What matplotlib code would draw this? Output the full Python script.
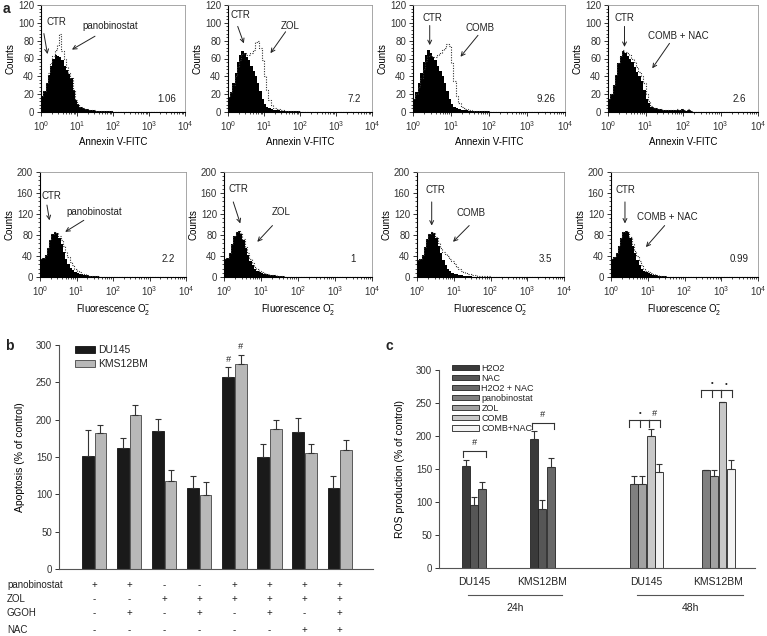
import numpy as np
import matplotlib
matplotlib.use("Agg")
import matplotlib.pyplot as plt
from matplotlib.patches import Patch
from matplotlib.ticker import MultipleLocator, LogLocator, NullFormatter
from matplotlib.transforms import blended_transform_factory

plt.rcParams['font.family'] = ['Liberation Sans', 'DejaVu Sans']
plt.rcParams['mathtext.fontset'] = 'custom'
plt.rcParams['mathtext.rm'] = 'Liberation Sans'
plt.rcParams['mathtext.it'] = 'Liberation Sans:italic'
plt.rcParams['font.size'] = 7
plt.rcParams['text.color'] = '#222222'

# ---- panel a: counts per 1/16 decade bin, starting at 10^0 ----
# Annexin V-FITC (top row)
ann_ctr_pano = [18, 24, 32, 42, 52, 60, 64, 63, 62, 58, 52, 47, 43, 38, 25, 14,
                9, 6, 4, 3, 3, 2, 2, 2, 1, 1, 1, 1, 1, 1, 1, 1]
ann_pano = [18, 24, 33, 44, 55, 63, 70, 75, 87, 68, 60, 50, 44, 38, 25, 14,
            9, 6, 4, 3, 3, 2, 2, 2, 1, 1, 1, 1, 1, 1, 1, 1]
ann_ctr_zol = [17, 22, 32, 44, 56, 64, 68, 66, 62, 58, 52, 46, 40, 32, 24, 15,
               9, 6, 4, 3, 2, 2, 2, 1, 1, 1, 1, 1, 1, 1, 1, 1]
ann_zol = [17, 22, 30, 40, 50, 58, 65, 66, 64, 64, 66, 70, 78, 80, 72, 58,
           40, 25, 14, 8, 5, 4, 3, 2, 2, 1, 1, 1, 1, 1, 1, 1]
ann_ctr_comb = [15, 22, 32, 44, 56, 64, 69, 66, 62, 58, 52, 46, 40, 32, 24, 15,
                9, 6, 4, 3, 2, 2, 2, 1, 1, 1, 1, 1, 1, 1, 1, 1]
ann_comb = [15, 20, 28, 38, 48, 57, 63, 64, 62, 62, 64, 66, 70, 72, 76, 74,
            55, 35, 18, 10, 6, 4, 3, 2, 2, 1, 1, 1, 1, 1, 1, 1]
ann_ctr_nac = [15, 20, 30, 42, 55, 63, 68, 66, 63, 60, 56, 50, 45, 40, 35, 25,
               15, 10, 6, 5, 4, 3, 3, 2, 2, 2, 2, 2, 2, 2, 2, 3, 2, 1, 2, 1]
ann_nac = [15, 20, 30, 42, 55, 63, 69, 67, 66, 64, 60, 56, 50, 45, 40, 32,
           20, 12, 7, 5, 4, 3, 3, 2, 2, 2, 2, 2, 2, 3, 2, 3, 2, 2, 3, 1]
# Fluorescence O2- (bottom row)
sox_ctr_pano = [35, 37, 42, 55, 70, 82, 85, 84, 75, 62, 48, 35, 25, 18, 13, 10,
                8, 6, 5, 4, 3, 2, 2, 1, 1, 1]
sox_pano = [35, 37, 42, 55, 70, 82, 85, 84, 78, 70, 60, 48, 38, 28, 22, 16,
            12, 9, 6, 5, 3, 2, 2, 1, 1, 1]
sox_ctr_zol = [35, 37, 45, 62, 78, 86, 88, 82, 70, 55, 42, 30, 22, 16, 12, 10,
               8, 6, 5, 4, 3, 3, 2, 2, 2, 1]
sox_zol = [35, 37, 45, 62, 78, 86, 88, 83, 72, 58, 45, 34, 26, 20, 15, 12,
           10, 8, 6, 5, 4, 3, 3, 2, 2, 1]
sox_ctr_comb = [32, 35, 42, 58, 72, 82, 86, 84, 75, 60, 45, 32, 22, 15, 11, 8,
                6, 5, 4, 3, 2, 2, 1, 1]
sox_comb = [32, 35, 42, 58, 72, 82, 86, 84, 76, 65, 55, 48, 44, 40, 35, 30,
            25, 20, 15, 12, 10, 8, 6, 5, 4, 3, 2, 2, 1, 1, 1, 1]
sox_ctr_nac = [35, 38, 45, 60, 75, 85, 88, 85, 75, 60, 45, 32, 22, 16, 12, 9,
               7, 5, 4, 3, 2, 2, 1, 1]
sox_nac = [35, 38, 45, 60, 75, 85, 88, 85, 76, 63, 50, 40, 30, 22, 16, 12,
           9, 7, 5, 4, 3, 2, 2, 1]

hist_treatments = ['panobinostat', 'ZOL', 'COMB', 'COMB + NAC']
ann_numbers = ['1.06', '7.2', '9.26', '2.6']
sox_numbers = ['2.2', '1', '3.5', '0.99']

# ---- panel b ----
b_rows = ['panobinostat', 'ZOL', 'GGOH', 'NAC']
pano_row = ['+', '+', '-', '-', '+', '+', '+', '+']
zol_row = ['-', '-', '+', '+', '+', '+', '+', '+']
ggoh_row = ['-', '+', '-', '+', '-', '+', '-', '+']
nac_row = ['-', '-', '-', '-', '-', '-', '+', '+']
du145_apop = [152, 162, 185, 109, 257, 150, 183, 108]
du145_apop_err = [34, 13, 16, 16, 13, 18, 19, 17]
kms_apop = [182, 206, 118, 99, 274, 188, 155, 160]
kms_apop_err = [11, 13, 15, 17, 13, 12, 13, 13]

# ---- panel c ----
c_cells = ['DU145', 'KMS12BM']
c_times = ['24h', '48h']
h2o2_ros = [154, 196]
h2o2_err = [10, 11]
nac_ros = [96, 89]
nac_err = [12, 14]
h2o2nac_ros = [119, 153]
h2o2nac_err = [12, 14]
pano_ros = [128, 149]
pano_err = [11, 0]
zol_ros = [128, 139]
zol_err = [12, 9]
comb_ros = [200, 251]
comb_err = [11, 1]
combnac_ros = [145, 150]
combnac_err = [12, 13]

W, H = 767, 636
fig = plt.figure(figsize=(W / 100, H / 100), dpi=100)


def rect(x0, x1, y0, y1):
    return [x0 / W, 1 - y1 / H, (x1 - x0) / W, (y1 - y0) / H]


def hist_panel(r, ctr, trt, ymax, ystep, yminor, xlabel, name, number, num_y,
               ctr_txt, ctr_arr, trt_txt, trt_arr):
    ax = fig.add_axes(r)
    n = 64
    edges = 10 ** (np.arange(n + 1) / 16)
    c = np.pad(np.array(ctr, float), (0, n - len(ctr)))
    t = np.pad(np.array(trt, float), (0, n - len(trt)))
    ax.stairs(c, edges, fill=True, color='black')
    ax.stairs(t, edges, color='#333333', lw=0.8, ls=(0, (1, 1.3)))
    ax.set_xscale('log')
    ax.set_xlim(1, 1e4)
    ax.set_ylim(0, ymax)
    ax.yaxis.set_major_locator(MultipleLocator(ystep))
    ax.yaxis.set_minor_locator(MultipleLocator(yminor))
    ax.xaxis.set_major_locator(LogLocator(10, numticks=10))
    ax.xaxis.set_minor_locator(LogLocator(10, subs=np.arange(2, 10), numticks=10))
    ax.xaxis.set_minor_formatter(NullFormatter())
    ax.tick_params(which='major', direction='out', length=3, width=0.7,
                   labelsize=7, colors='#333333', pad=2)
    ax.tick_params(which='minor', direction='out', length=1.5, width=0.5)
    for s in ['left', 'bottom']:
        ax.spines[s].set_linewidth(0.8)
    for s in ['top', 'right']:
        ax.spines[s].set_color('#999999')
        ax.spines[s].set_linewidth(0.6)
    ax.set_xlabel(xlabel, fontsize=7, labelpad=3)
    ax.set_ylabel('Counts', fontsize=7, labelpad=2)
    ax.text(10 ** 3.5, num_y, number, ha='center', va='center', fontsize=7)
    ax.text(10 ** ctr_txt[0], ctr_txt[1], 'CTR', ha='center', va='center', fontsize=7)
    ax.text(10 ** trt_txt[0], trt_txt[1], name, ha='center', va='center', fontsize=7)
    for (x0, y0), (x1, y1) in [ctr_arr, trt_arr]:
        ax.annotate('', xy=(10 ** x1, y1), xytext=(10 ** x0, y0),
                    arrowprops=dict(arrowstyle='->', lw=0.7, color='#222222',
                                    shrinkA=0, shrinkB=0))
    return ax


top_rects = [rect(41, 185, 5, 112), rect(228, 372, 5, 112),
             rect(413, 565, 5, 112), rect(608, 758, 5, 112)]
bot_rects = [rect(40, 186, 172, 277), rect(224, 372, 172, 277),
             rect(417, 564, 172, 277), rect(611, 758, 172, 277)]

ann_pairs = [(ann_ctr_pano, ann_pano), (ann_ctr_zol, ann_zol),
             (ann_ctr_comb, ann_comb), (ann_ctr_nac, ann_nac)]
sox_pairs = [(sox_ctr_pano, sox_pano), (sox_ctr_zol, sox_zol),
             (sox_ctr_comb, sox_comb), (sox_ctr_nac, sox_nac)]

# label / arrow placement in (decade, count)
top_marks = [
    ((0.44, 101), ((0.08, 88), (0.18, 65)), (1.93, 97), ((1.5, 85), (0.86, 70))),
    ((0.34, 109), ((0.27, 96), (0.44, 77)), (1.73, 97), ((1.6, 90), (1.18, 66))),
    ((0.51, 105), ((0.44, 97), (0.44, 75)), (1.76, 94), ((1.71, 86), (1.25, 62))),
    ((0.44, 105), ((0.44, 96), (0.44, 73)), (1.87, 85), ((1.64, 77), (1.18, 49))),
]
bot_marks = [
    ((0.32, 154), ((0.19, 137), (0.26, 108)), (1.48, 124), ((1.2, 108), (0.69, 86))),
    ((0.39, 168), ((0.25, 143), (0.44, 102)), (1.55, 124), ((1.31, 98), (0.9, 67))),
    ((0.49, 165), ((0.4, 143), (0.4, 98)), (1.46, 121), ((1.42, 98), (0.98, 67))),
    ((0.4, 165), ((0.38, 143), (0.38, 102)), (1.54, 114), ((1.46, 98), (0.95, 57))),
]

for i in range(4):
    m = top_marks[i]
    hist_panel(top_rects[i], ann_pairs[i][0], ann_pairs[i][1], 120, 20, 4,
               'Annexin V-FITC', hist_treatments[i], ann_numbers[i], 15,
               m[0], m[1], m[2], m[3])
    m = bot_marks[i]
    hist_panel(bot_rects[i], sox_pairs[i][0], sox_pairs[i][1], 200, 40, 8,
               r'Fluorescence O$_2^{\mathdefault{-}}$', hist_treatments[i],
               sox_numbers[i], 35, m[0], m[1], m[2], m[3])

# ---- panel b ----
axb = fig.add_axes(rect(59, 373, 345, 569))
xb = np.arange(len(du145_apop))
bw = 0.33
axb.bar(xb - 0.18, du145_apop, bw, color='#1a1a1a', edgecolor='#111111', lw=0.6,
        yerr=[np.zeros(8), du145_apop_err], capsize=2.5,
        error_kw=dict(lw=0.8, capthick=0.8, ecolor='#333333'), label='DU145')
axb.bar(xb + 0.18, kms_apop, bw, color='#b8b8b8', edgecolor='#444444', lw=0.6,
        yerr=[np.zeros(8), kms_apop_err], capsize=2.5,
        error_kw=dict(lw=0.8, capthick=0.8, ecolor='#333333'), label='KMS12BM')
axb.set_xlim(-1.0, 7.95)
axb.set_ylim(0, 300)
axb.yaxis.set_major_locator(MultipleLocator(50))
axb.set_xticks([])
axb.spines['top'].set_visible(False)
axb.spines['right'].set_visible(False)
axb.spines['left'].set_color('#555555')
axb.spines['bottom'].set_color('#555555')
axb.tick_params(axis='y', direction='out', length=3, width=0.7, labelsize=7,
                colors='#333333', pad=2)
axb.set_ylabel('Apoptosis (% of control)', fontsize=7.5, labelpad=8)
axb.text(xb[4] - 0.18, du145_apop[4] + du145_apop_err[4] + 5, '#',
         ha='center', va='bottom', fontsize=6.5, style='italic')
axb.text(xb[4] + 0.18, kms_apop[4] + kms_apop_err[4] + 5, '#',
         ha='center', va='bottom', fontsize=6.5, style='italic')
axb.legend(loc='upper left', bbox_to_anchor=(70 / W, 1 - 340 / H),
           bbox_transform=fig.transFigure, frameon=False, fontsize=7.5,
           handlelength=1.9, handleheight=0.7, labelspacing=0.35,
           borderpad=0, handletextpad=0.3)

tb = blended_transform_factory(axb.transData, fig.transFigure)
for row_name, row, ypx in zip(b_rows, [pano_row, zol_row, ggoh_row, nac_row],
                              [585, 599, 613, 630]):
    fig.text(7 / W, 1 - ypx / H, row_name, ha='left', va='center', fontsize=7)
    for x, s in zip(xb, row):
        axb.text(x, 1 - ypx / H, s, transform=tb, ha='center', va='center',
                 fontsize=7, clip_on=False)

# ---- panel c ----
axc = fig.add_axes(rect(439, 755, 370, 568))
c_centers = [4.2, 12.4, 24.9, 33.5]
series24 = [('H2O2', h2o2_ros, h2o2_err, '#3a3a3a'),
            ('NAC', nac_ros, nac_err, '#565656'),
            ('H2O2 + NAC', h2o2nac_ros, h2o2nac_err, '#686868')]
series48 = [('panobinostat', pano_ros, pano_err, '#808080'),
            ('ZOL', zol_ros, zol_err, '#a2a2a2'),
            ('COMB', comb_ros, comb_err, '#c8c8c8'),
            ('COMB+NAC', combnac_ros, combnac_err, '#f2f2f2')]
ekw = dict(lw=0.8, capthick=0.8, ecolor='#333333')
xpos = {}
for k, (lab, vals, errs, col) in enumerate(series24):
    xs = np.array(c_centers[:2]) + (k - 1)
    xpos[lab] = xs
    axc.bar(xs, vals, 0.95, color=col, edgecolor='#222222', lw=0.6,
            yerr=[np.zeros(2), errs], capsize=2.5, error_kw=ekw)
for k, (lab, vals, errs, col) in enumerate(series48):
    xs = np.array(c_centers[2:]) + (k - 1.5)
    xpos[lab] = xs
    axc.bar(xs, vals, 0.95, color=col, edgecolor='#222222', lw=0.6,
            yerr=[np.zeros(2), errs], capsize=2.5, error_kw=ekw)
axc.set_xlim(0, 37.9)
axc.set_ylim(0, 300)
axc.yaxis.set_major_locator(MultipleLocator(50))
axc.set_xticks([])
axc.spines['top'].set_visible(False)
axc.spines['right'].set_visible(False)
axc.spines['left'].set_color('#555555')
axc.spines['bottom'].set_color('#555555')
axc.tick_params(axis='y', direction='out', length=3, width=0.7, labelsize=7,
                colors='#333333', pad=2)
axc.set_ylabel('ROS production (% of control)', fontsize=7.5, labelpad=8)


def bracket(ax, xs, top, drop, lw=0.8):
    ax.plot([xs[0], xs[-1]], [top, top], color='#333333', lw=lw)
    for x in xs:
        ax.plot([x, x], [top, top - drop], color='#333333', lw=lw)


for g in range(2):
    bracket(axc, [xpos['H2O2'][g] - 0.3, xpos['H2O2 + NAC'][g] + 0.4],
            [177, 220][g], [9, 10][g])
    axc.text(c_centers[g] + 0.05, [184, 226][g], '#', ha='center', va='bottom',
             fontsize=6.5, style='italic')
    top = [224, 269][g]
    xs1 = [xpos['panobinostat'][g] - 0.6, xpos['ZOL'][g] - 0.3, xpos['COMB'][g] - 0.2]
    xs2 = [xpos['COMB'][g] - 0.2, xpos['COMB+NAC'][g] + 0.1]
    bracket(axc, xs1, top, 10)
    bracket(axc, xs2, top, 10)
    axc.text(xs1[1], top + 5, '•', ha='center', va='bottom', fontsize=5.5)
    axc.text(np.mean(xs2), top + 4, ['#', '•'][g], ha='center', va='bottom',
             fontsize=[6.5, 5.5][g], style='italic')

handles = [Patch(facecolor=s[3], edgecolor='#222222', lw=0.6, label=s[0])
           for s in series24 + series48]
fig.legend(handles=handles, loc='upper left', bbox_to_anchor=(447 / W, 1 - 359 / H),
           frameon=False, fontsize=6.5, handlelength=3.0, handleheight=0.55,
           labelspacing=0.12, borderpad=0, handletextpad=0.3)

tc = blended_transform_factory(axc.transData, fig.transFigure)
for i, cx in enumerate(c_centers):
    axc.text(cx, 1 - 582 / H, c_cells[i % 2], transform=tc, ha='center',
             va='center', fontsize=7.5, clip_on=False)
for (x0, x1), lab in zip([(3.5, 14.7), (23.7, 36.5)], c_times):
    axc.plot([x0, x1], [1 - 595 / H] * 2, transform=tc, color='#555555',
             lw=0.8, clip_on=False)
    axc.text((x0 + x1) / 2, 1 - 608 / H, lab, transform=tc, ha='center',
             va='center', fontsize=7.5, clip_on=False)

# panel letters
fig.text(3 / W, 1 - 9 / H, 'a', fontsize=10, fontweight='bold', va='center')
fig.text(5 / W, 1 - 346 / H, 'b', fontsize=10, fontweight='bold', va='center')
fig.text(386 / W, 1 - 346 / H, 'c', fontsize=10, fontweight='bold', va='center')

fig.savefig('out.png', dpi=100)
